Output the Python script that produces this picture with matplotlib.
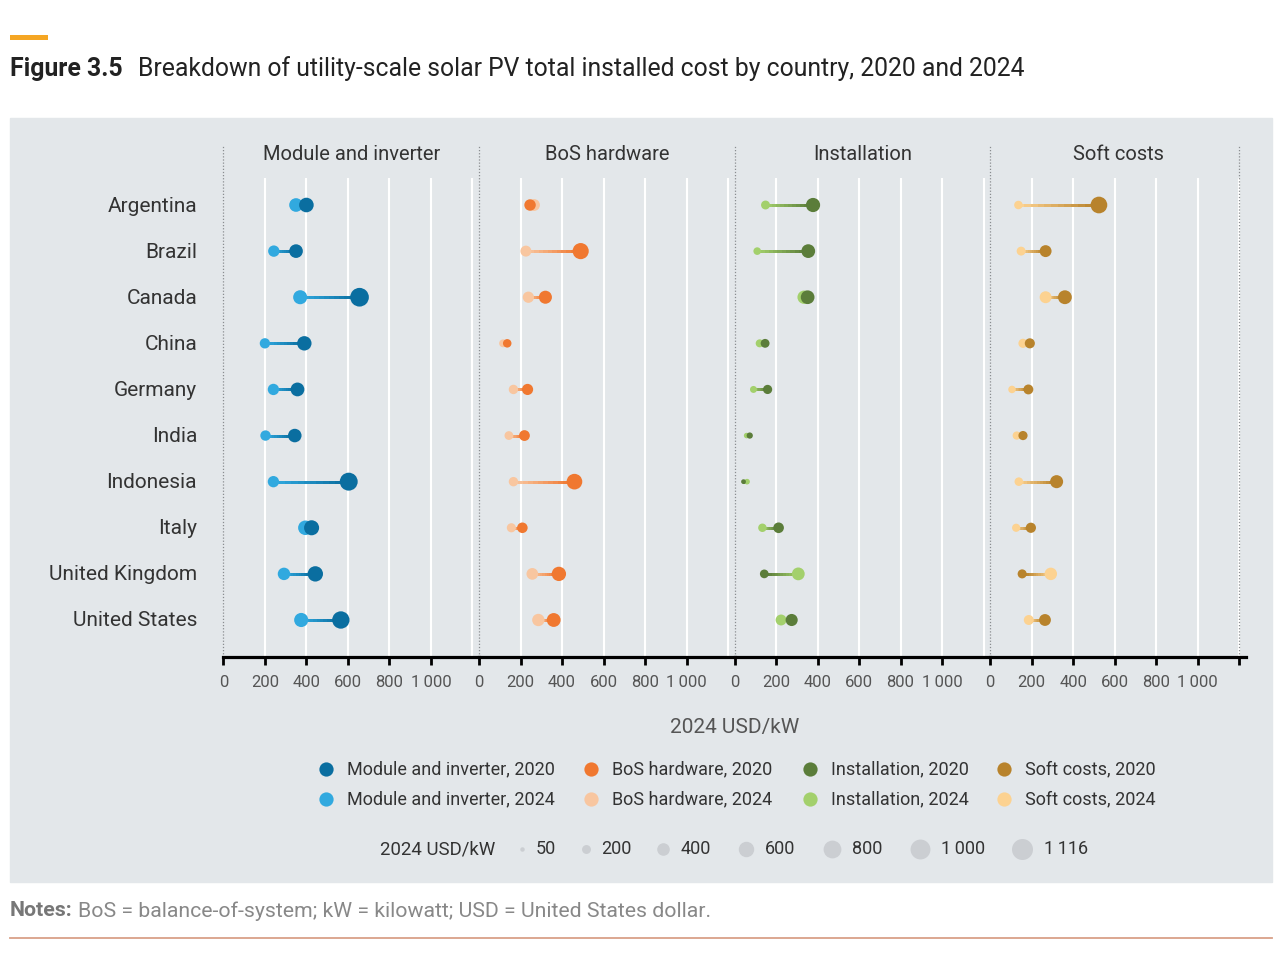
import matplotlib

matplotlib.use("Agg")
import matplotlib.pyplot as plt
import numpy as np
from matplotlib.collections import LineCollection
from matplotlib.colors import to_rgb
from matplotlib.patches import Rectangle

plt.rcParams["font.family"] = ["Roboto", "DejaVu Sans"]

W, H = 1280, 960

countries = ["Argentina", "Brazil", "Canada", "China", "Germany", "India",
             "Indonesia", "Italy", "United Kingdom", "United States"]
panels = ["Module and inverter", "BoS hardware", "Installation", "Soft costs"]

module_2020 = [400, 350, 656, 390, 357, 344, 604, 425, 443, 566]
module_2024 = [350, 243, 370, 200, 241, 203, 241, 395, 292, 375]
bos_2020 = [246, 490, 320, 136, 234, 219, 460, 209, 385, 360]
bos_2024 = [265, 226, 238, 116, 166, 144, 166, 156, 257, 286]
inst_2020 = [378, 355, 352, 147, 159, 73, 43, 212, 143, 275]
inst_2024 = [149, 109, 335, 121, 91, 58, 60, 134, 307, 224]
soft_2020 = [524, 267, 360, 191, 184, 158, 320, 196, 154, 264]
soft_2024 = [136, 149, 267, 158, 105, 128, 138, 125, 292, 186]

values_2020 = [module_2020, bos_2020, inst_2020, soft_2020]
values_2024 = [module_2024, bos_2024, inst_2024, soft_2024]

colors_2020 = ["#0a6ea0", "#f07830", "#5b7d3a", "#b8832c"]
colors_2024 = ["#31a9df", "#f8c6a0", "#a3d06c", "#fcd291"]

size_legend = [50, 200, 400, 600, 800, 1000, 1116]
xticks = [0, 200, 400, 600, 800, 1000]
grid_x = [200, 400, 600, 800, 1000, 1200]

XMAX = 1232
DATA_S = 0.276   # marker area per USD/kW
LEG_S = 0.205


def fx(px):
    return px / W


def fy(py):
    return 1 - py / H


def gradient_line(ax, x0, x1, y, c0, c1, n=12):
    xs = np.linspace(x0, x1, n + 1)
    segs = [[(xs[i], y), (xs[i + 1], y)] for i in range(n)]
    a, b = np.array(to_rgb(c0)), np.array(to_rgb(c1))
    cols = [a + (b - a) * t for t in np.linspace(0, 1, n)]
    ax.add_collection(LineCollection(segs, colors=cols, linewidths=1.9, zorder=2,
                                     capstyle="projecting", antialiased=False))


fig = plt.figure(figsize=(W / 100, H / 100), dpi=100)
fig.patches.append(Rectangle((fx(10), fy(882)), fx(1262), (882 - 118) / H,
                             transform=fig.transFigure, color="#e3e7ea", zorder=-5))

row_px = 46.1
y_bottom = 9 + (657 - 620) / row_px
y_top = -(205 - 178) / row_px
y_dot = y_top - (178 - 145) / row_px

ax_h = (657 - 178) / H
panel_w = XMAX * 0.2075
rows = np.arange(len(countries))

for i, name in enumerate(panels):
    left = 223.4 + i * 255.6
    ax = fig.add_axes([fx(left), fy(657), fx(panel_w), ax_h])
    ax.set_facecolor("none")
    ax.set_xlim(0, XMAX)
    ax.set_ylim(y_bottom, y_top)
    for g in grid_x:
        ax.axvline(g, color="white", lw=1.5, zorder=0)
    ax.plot([0, 0], [y_bottom, y_dot], ls=(0, (1, 1.5)), color="#8a8d90", lw=0.9,
            clip_on=False, zorder=1)
    if i == len(panels) - 1:
        ax.plot([1200, 1200], [y_bottom, y_dot], ls=(0, (1, 1.5)), color="#8a8d90",
                lw=0.9, clip_on=False, zorder=1)

    v20 = values_2020[i]
    v24 = values_2024[i]
    for r in rows:
        gradient_line(ax, v24[r], v20[r], r, colors_2024[i], colors_2020[i])
    ax.scatter(v24, rows, s=np.array(v24) * DATA_S, color=colors_2024[i],
               lw=0, zorder=3)
    ax.scatter(v20, rows, s=np.array(v20) * DATA_S, color=colors_2020[i],
               lw=0, zorder=4)

    ticks = xticks + ([1200] if i == len(panels) - 1 else [])
    labels = [f"{t:,}".replace(",", "\u2009") for t in xticks]
    labels += [""] * (len(ticks) - len(xticks))
    ax.set_xticks(ticks)
    ax.set_xticklabels(labels, fontsize=12, color="#555555")
    ax.tick_params(axis="x", length=6, width=2, color="black", pad=7)
    ax.set_yticks([])
    for s in ["top", "left", "right"]:
        ax.spines[s].set_visible(False)
    ax.spines["bottom"].set_linewidth(2.3)
    ax.spines["bottom"].set_color("black")

    fig.text(fx(left + 128), fy(154), name, ha="center", va="center",
             fontsize=14.5, color="#333333")

for r, c in enumerate(countries):
    fig.text(fx(197), fy(206 + r * row_px), c, ha="right", va="center",
             fontsize=15, color="#333333")

fig.text(fx(735), fy(727), "2024 USD/kW", ha="center", va="center",
         fontsize=15, color="#555555")

# overlay in pixel coordinates for legend and decorations
ov = fig.add_axes([0, 0, 1, 1])
ov.set_xlim(0, W)
ov.set_ylim(H, 0)
ov.axis("off")
ov.set_facecolor("none")

leg_x = [326, 591, 810, 1004]
for i, name in enumerate(panels):
    for yy, col, yr in [(769, colors_2020[i], 2020), (799, colors_2024[i], 2024)]:
        ov.scatter([leg_x[i]], [yy], s=105, color=col, lw=0)
        ov.text(leg_x[i] + 21, yy, f"{name}, {yr}", ha="left", va="center",
                fontsize=13, color="#333333")

ov.text(495, 849, "2024 USD/kW", ha="right", va="center", fontsize=13.4, color="#333333")
size_x = [522, 586, 663, 746, 832, 920, 1022]
for sx, v in zip(size_x, size_legend):
    ov.scatter([sx], [849], s=v * LEG_S, color="#cbced2", lw=0)
    d = 0.63 * np.sqrt(v)
    ov.text(sx + d / 2 + 11, 849, f"{v:,}".replace(",", "\u2009"), ha="left",
            va="center", fontsize=13, color="#333333")

# header and footer
ov.add_patch(Rectangle((10, 35), 38, 5, color="#f5a623", lw=0))
ov.text(10, 69, "Figure 3.5", ha="left", va="center", fontsize=17.8,
        fontweight="bold", color="#222222")
ov.text(138, 69, "Breakdown of utility-scale solar PV total installed cost by country, 2020 and 2024",
        ha="left", va="center", fontsize=17.8, color="#222222")
ov.text(10, 911, "Notes:", ha="left", va="center", fontsize=15.3, fontweight="bold",
        color="#777777")
ov.text(78, 911, "BoS = balance-of-system; kW = kilowatt; USD = United States dollar.",
        ha="left", va="center", fontsize=15.3, color="#888888")
ov.plot([10, 1272], [938, 938], color="#d9a088", lw=1.3)

fig.savefig("out.png", dpi=100)
